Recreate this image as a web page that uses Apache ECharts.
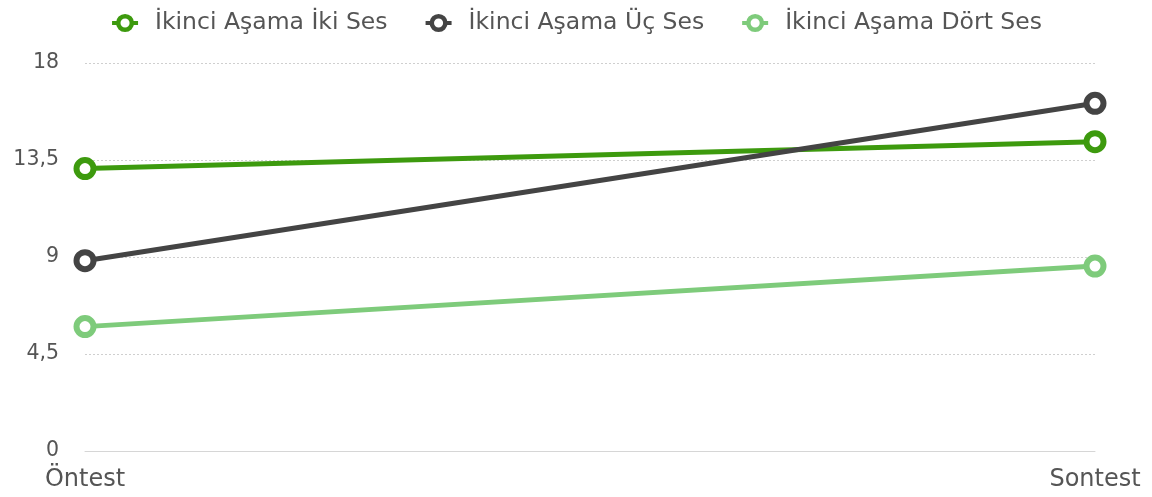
<!DOCTYPE html>
<html><head><meta charset="utf-8">
<script src="https://cdn.jsdelivr.net/npm/echarts@6/dist/echarts.min.js"></script>
<style>html,body{margin:0;padding:0;background:#fff}#c{width:1152px;height:497px}</style>
</head><body><div id="c"></div>
<script>
const categories = ['Öntest', 'Sontest'];
const seriesNames = ['İkinci Aşama İki Ses', 'İkinci Aşama Üç Ses', 'İkinci Aşama Dört Ses'];
const ikiSes = [13.1, 14.35];
const ucSes = [8.83, 16.13];
const dortSes = [5.77, 8.58];
const colors = ['#3d9a0e', '#444444', '#7ecb7b'];
const font = '"DejaVu Sans", sans-serif';

const chart = echarts.init(document.getElementById('c'));
const mk = (name, data, color) => ({
  name, type: 'line', data,
  symbol: 'circle', symbolSize: 17,
  lineStyle: { width: 5, color },
  itemStyle: { color: '#fff', borderWidth: 6, borderColor: color },
  emphasis: { disabled: true }
});
chart.setOption({
  animation: false,
  textStyle: { fontFamily: font },
  legend: {
    top: 6, left: 'center', itemGap: 36, itemWidth: 26, itemHeight: 17,
    itemStyle: { borderWidth: 4.5 },
    lineStyle: { width: 4 },
    textStyle: { fontSize: 23.5, color: '#555', fontFamily: font, padding: [0, 0, 0, 12] },
    data: seriesNames
  },
  grid: { left: 85, right: 57, top: 63, bottom: 46 },
  xAxis: {
    type: 'category', data: categories, boundaryGap: false,
    axisLine: { lineStyle: { color: '#d6d6d6', width: 1 } },
    axisTick: { show: false },
    axisLabel: { fontSize: 24, color: '#555', margin: 17, fontFamily: font }
  },
  yAxis: {
    type: 'value', min: 0, max: 18, interval: 4.5,
    axisLine: { show: false }, axisTick: { show: false },
    splitLine: { lineStyle: { color: '#cfcfcf', type: [2, 2], width: 1 } },
    axisLabel: { fontSize: 20.5, color: '#555', margin: 26, fontFamily: font,
      formatter: v => String(v).replace('.', ',') }
  },
  series: [mk(seriesNames[0], ikiSes, colors[0]), mk(seriesNames[1], ucSes, colors[1]), mk(seriesNames[2], dortSes, colors[2])]
});
</script></body></html>
